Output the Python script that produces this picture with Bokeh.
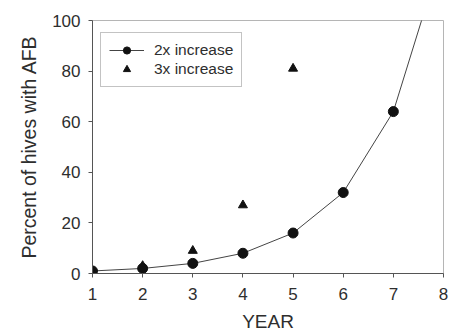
from bokeh.plotting import figure
from bokeh.models import Legend, LegendItem, Range1d, FixedTicker
from bokeh.embed import file_html
from bokeh.resources import INLINE

# data
years = [1, 2, 3, 4, 5, 6, 7]
double_vals = [1, 2, 4, 8, 16, 32, 64]
curve_years = [1, 2, 3, 4, 5, 6, 7, 8]
curve_vals = [1, 2, 4, 8, 16, 32, 64, 128]
triple_years = [1, 2, 3, 4, 5]
triple_vals = [1, 3, 9, 27, 81]
x_ticks = [1, 2, 3, 4, 5, 6, 7, 8]
y_ticks = [0, 20, 40, 60, 80, 100]

FONT = "Liberation Sans"
TXT = "#2e2e2e"

p = figure(width=450, height=334, output_backend="svg", toolbar_location=None,
           x_range=Range1d(1, 8), y_range=Range1d(0, 100),
           min_border_left=92, min_border_right=7, min_border_top=20, min_border_bottom=61)

p.xgrid.visible = False
p.ygrid.visible = False
p.outline_line_color = "#b5b5b5"
p.outline_line_width = 1
p.background_fill_color = "white"
p.border_fill_color = "white"

for ax in (p.xaxis[0], p.yaxis[0]):
    ax.axis_line_color = "#555555"
    ax.major_tick_line_color = "#555555"
    ax.minor_tick_line_color = None
    ax.major_tick_out = 4
    ax.major_tick_in = 0
    ax.major_label_text_font = FONT
    ax.major_label_text_font_size = "17px"
    ax.major_label_text_color = TXT
    ax.axis_label_text_font = FONT
    ax.axis_label_text_font_style = "normal"
    ax.axis_label_text_color = TXT

p.xaxis[0].ticker = FixedTicker(ticks=x_ticks)
p.yaxis[0].ticker = FixedTicker(ticks=y_ticks)
p.xaxis[0].axis_label = "YEAR"
p.yaxis[0].axis_label = "Percent of hives with AFB"
p.xaxis[0].axis_label_text_font_size = "19px"
p.yaxis[0].axis_label_text_font_size = "19.5px"
p.xaxis[0].major_label_standoff = 10
p.yaxis[0].major_label_standoff = 8
p.xaxis[0].axis_label_standoff = 8
p.yaxis[0].axis_label_standoff = 9

line_r = p.line(curve_years, curve_vals, line_color="#444444", line_width=1)
circ_r = p.scatter(years, double_vals, marker="circle", size=10,
                   fill_color="#111111", line_color="#111111")
tri_r = p.scatter(triple_years, triple_vals, marker="triangle", size=9,
                  fill_color="#111111", line_color="#111111")

legend = Legend(items=[LegendItem(label="2x increase", renderers=[line_r, circ_r]),
                       LegendItem(label="3x increase", renderers=[tri_r])],
                location=(8, 186))
legend.label_text_font = FONT
legend.label_text_font_size = "15.5px"
legend.label_text_color = TXT
legend.border_line_color = "#888888"
legend.border_line_width = 1
legend.glyph_width = 35
legend.glyph_height = 18
legend.label_standoff = 10
legend.padding = 8
legend.spacing = 1
legend.margin = 0
legend.background_fill_alpha = 1
p.add_layout(legend, "center")

open("out.html", "w").write(file_html(p, INLINE))
